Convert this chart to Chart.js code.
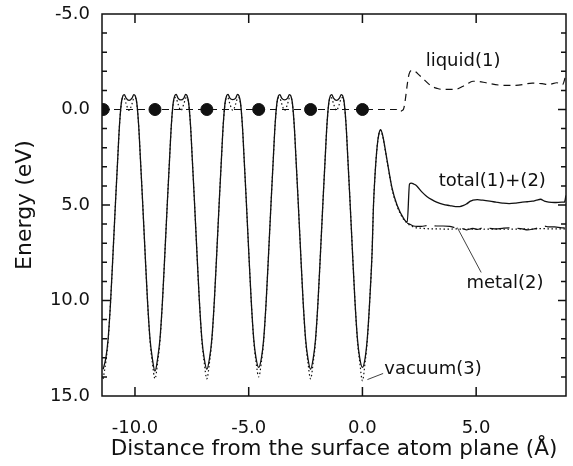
<!DOCTYPE html>
<html>
<head>
<meta charset="utf-8">
<script src="https://cdn.jsdelivr.net/npm/chart.js@4.4.1/dist/chart.umd.min.js"></script>
<style>
  body { margin: 0; background: #fff; }
</style>
</head>
<body>
<canvas id="potential_chart" width="573" height="466"></canvas>
<script>
'use strict';

// atom planes (Angstrom), all sitting at 0 eV
var atomX = [-11.40, -9.12, -6.84, -4.56, -2.28, 0.00];
var atomE = [0, 0, 0, 0, 0, 0];

// shared x grid for the total and vacuum potentials
var potX = [
    -11.40, -11.28, -11.18, -11.07, -10.96, -10.85, -10.76, -10.68, -10.60, -10.53, -10.47, -10.39,
    -10.26, -10.13, -10.05, -9.99, -9.92, -9.84, -9.76, -9.67, -9.56, -9.45, -9.34, -9.24,
    -9.12, -9.00, -8.90, -8.79, -8.68, -8.57, -8.48, -8.40, -8.32, -8.25, -8.19, -8.11,
    -7.98, -7.85, -7.77, -7.71, -7.64, -7.56, -7.48, -7.39, -7.28, -7.17, -7.06, -6.96,
    -6.84, -6.72, -6.62, -6.51, -6.40, -6.29, -6.20, -6.12, -6.04, -5.97, -5.91, -5.83,
    -5.70, -5.57, -5.49, -5.43, -5.36, -5.28, -5.20, -5.11, -5.00, -4.89, -4.78, -4.68,
    -4.56, -4.44, -4.34, -4.23, -4.12, -4.01, -3.92, -3.84, -3.76, -3.69, -3.63, -3.55,
    -3.42, -3.29, -3.21, -3.15, -3.08, -3.00, -2.92, -2.83, -2.72, -2.61, -2.50, -2.40,
    -2.28, -2.16, -2.06, -1.95, -1.84, -1.73, -1.64, -1.56, -1.48, -1.41, -1.35, -1.27,
    -1.14, -1.01, -0.93, -0.87, -0.80, -0.72, -0.64, -0.55, -0.44, -0.33, -0.22, -0.12,
    0.00, 0.12, 0.22, 0.33, 0.43, 0.48, 0.55, 0.65, 0.72, 0.80, 0.88, 0.94,
    1.09, 1.30, 1.52, 1.81, 1.97, 2.07, 2.15, 2.25, 2.39, 2.60, 2.83, 3.05,
    3.26, 3.55, 3.84, 4.10, 4.28, 4.45, 4.57, 4.75, 4.86, 5.05, 5.29, 5.60,
    5.87, 6.15, 6.45, 6.75, 7.03, 7.25, 7.47, 7.65, 7.83, 8.00, 8.19, 8.45,
    8.77, 8.88, 8.95
];

// total(1)+(2), eV
var totalE = [
    13.6, 13.0, 12.0, 10.0, 7.4, 4.7, 2.6, 0.8, -0.35, -0.72, -0.78, -0.60,
    -0.48, -0.60, -0.78, -0.72, -0.35, 0.8, 2.6, 4.7, 7.4, 10.0, 12.0, 13.0,
    13.7, 13.0, 12.0, 10.0, 7.4, 4.7, 2.6, 0.8, -0.35, -0.72, -0.79, -0.60,
    -0.50, -0.60, -0.79, -0.72, -0.35, 0.8, 2.6, 4.7, 7.4, 10.0, 12.0, 13.0,
    13.6, 13.0, 12.0, 10.0, 7.4, 4.7, 2.6, 0.8, -0.35, -0.72, -0.79, -0.60,
    -0.52, -0.60, -0.79, -0.72, -0.35, 0.8, 2.6, 4.7, 7.4, 10.0, 12.0, 13.0,
    13.5, 13.0, 12.0, 10.0, 7.4, 4.7, 2.6, 0.8, -0.35, -0.72, -0.78, -0.60,
    -0.50, -0.60, -0.78, -0.72, -0.35, 0.8, 2.6, 4.7, 7.4, 10.0, 12.0, 13.0,
    13.6, 13.0, 12.0, 10.0, 7.4, 4.7, 2.6, 0.8, -0.35, -0.72, -0.78, -0.60,
    -0.48, -0.60, -0.78, -0.72, -0.35, 0.8, 2.6, 4.7, 7.4, 10.0, 12.0, 13.0,
    13.5, 13.0, 11.9, 9.8, 7.3, 5.2, 3.5, 1.9, 1.3, 1.05, 1.3, 1.65,
    2.7, 4.1, 5.0, 5.7, 5.9, 3.9, 3.85, 3.9, 4.0, 4.3, 4.55, 4.72,
    4.85, 4.97, 5.03, 5.08, 5.08, 5.02, 4.95, 4.80, 4.74, 4.72, 4.75, 4.80,
    4.85, 4.90, 4.93, 4.90, 4.85, 4.83, 4.80, 4.75, 4.70, 4.80, 4.85, 4.87,
    4.85, 4.85, 4.5
];

// vacuum(3), eV
var vacuumE = [
    14.1, 13.2, 12.1, 10.0, 7.4, 4.7, 2.6, 0.8, -0.30, -0.62, -0.60, -0.30,
    0.05, -0.30, -0.60, -0.62, -0.30, 0.8, 2.6, 4.7, 7.4, 10.0, 12.1, 13.2,
    14.1, 13.2, 12.1, 10.0, 7.4, 4.7, 2.6, 0.8, -0.30, -0.62, -0.60, -0.30,
    0.05, -0.30, -0.60, -0.62, -0.30, 0.8, 2.6, 4.7, 7.4, 10.0, 12.1, 13.2,
    14.1, 13.2, 12.1, 10.0, 7.4, 4.7, 2.6, 0.8, -0.30, -0.62, -0.60, -0.30,
    0.05, -0.30, -0.60, -0.62, -0.30, 0.8, 2.6, 4.7, 7.4, 10.0, 12.1, 13.2,
    14.0, 13.2, 12.1, 10.0, 7.4, 4.7, 2.6, 0.8, -0.30, -0.62, -0.60, -0.30,
    0.05, -0.30, -0.60, -0.62, -0.30, 0.8, 2.6, 4.7, 7.4, 10.0, 12.1, 13.2,
    14.1, 13.2, 12.1, 10.0, 7.4, 4.7, 2.6, 0.8, -0.30, -0.62, -0.60, -0.30,
    0.05, -0.30, -0.60, -0.62, -0.30, 0.8, 2.6, 4.7, 7.4, 10.0, 12.1, 13.2,
    14.2, 13.2, 12.0, 9.8, 7.3, 5.2, 3.5, 1.9, 1.3, 1.1, 1.35, 1.7,
    2.75, 4.15, 5.05, 5.75, 5.95, 6.05, 6.10, 6.15, 6.20, 6.22, 6.24, 6.25,
    6.25, 6.26, 6.26, 6.25, 6.26, 6.27, 6.27, 6.26, 6.26, 6.27, 6.27, 6.26,
    6.26, 6.27, 6.27, 6.26, 6.25, 6.26, 6.26, 6.25, 6.24, 6.24, 6.25, 6.25,
    6.25, 6.25, 6.25
];

// metal(2) beyond the surface, eV
var metalX = [1.97, 2.07, 2.15, 2.25, 2.39, 2.60, 2.83, 3.05, 3.26, 3.55, 3.84, 4.10, 4.28, 4.45,
    4.57, 4.75, 4.86, 5.05, 5.29, 5.60, 5.87, 6.15, 6.45, 6.75, 7.03, 7.25, 7.47, 7.65,
    7.83, 8.00, 8.19, 8.45, 8.77, 8.95];
var metalE = [5.95, 6.00, 6.05, 6.10, 6.12, 6.12, 6.08, 6.08, 6.10, 6.10, 6.12, 6.20, 6.22, 6.25,
    6.30, 6.25, 6.22, 6.28, 6.20, 6.22, 6.25, 6.22, 6.20, 6.22, 6.25, 6.30, 6.27, 6.22,
    6.15, 6.10, 6.15, 6.15, 6.20, 6.20];

// liquid(1), eV
var liquidX = [-11.45, 1.50, 1.58, 1.66, 1.74, 1.80, 2.05, 2.20, 2.54, 3.04, 3.30, 3.55, 4.13,
    4.40, 4.57, 4.86, 5.10, 5.43, 6.01, 6.74, 7.47, 7.90, 8.19, 8.55, 8.80, 8.95];
var liquidE = [0, 0, 0.10, 0.12, 0.05, 0.0, -1.85, -2.05, -1.75, -1.22, -1.10, -1.05, -1.07,
    -1.20, -1.31, -1.48, -1.47, -1.40, -1.28, -1.26, -1.38, -1.35, -1.31, -1.40, -1.30, -1.85];

var xTicks = [-10, -5, 0, 5];

function points(xs, ys) {
    return xs.map(function (x, i) { return { x: x, y: ys[i] }; });
}

var FONT = '"DejaVu Sans", Verdana, sans-serif';
var INK = '#111';

// box frame with inward ticks on all four sides
var frameTicks = {
    id: 'frameTicks',
    afterDatasetsDraw: function (chart) {
        var ctx = chart.ctx, a = chart.chartArea;
        var xs = chart.scales.x, ys = chart.scales.y;
        ctx.save();
        ctx.strokeStyle = INK;
        ctx.lineWidth = 1.5;
        ctx.strokeRect(a.left, a.top, a.right - a.left, a.bottom - a.top);
        ctx.beginPath();
        xTicks.forEach(function (v) {
            var px = xs.getPixelForValue(v);
            ctx.moveTo(px, a.bottom); ctx.lineTo(px, a.bottom - 9);
            ctx.moveTo(px, a.top); ctx.lineTo(px, a.top + 9);
        });
        for (var e = -4; e <= 14; e++) {
            var py = ys.getPixelForValue(e);
            var len = e % 5 === 0 ? 8 : 5;
            ctx.moveTo(a.left, py); ctx.lineTo(a.left + len, py);
            ctx.moveTo(a.right, py); ctx.lineTo(a.right - len, py);
        }
        ctx.stroke();
        ctx.restore();
    }
};

// curve names and their pointer lines
var curveLabels = {
    id: 'curveLabels',
    afterDatasetsDraw: function (chart) {
        var ctx = chart.ctx;
        var xs = chart.scales.x, ys = chart.scales.y;
        function px(x) { return xs.getPixelForValue(x); }
        function py(y) { return ys.getPixelForValue(y); }
        ctx.save();
        ctx.fillStyle = INK;
        ctx.font = '18px ' + FONT;
        ctx.textAlign = 'left';
        ctx.textBaseline = 'middle';
        ctx.fillText('liquid(1)', px(2.78), py(-2.5));
        ctx.fillText('total(1)+(2)', px(3.35), py(3.77));
        ctx.fillText('metal(2)', px(4.57), py(9.1));
        ctx.fillText('vacuum(3)', px(0.96), py(13.6));
        ctx.strokeStyle = INK;
        ctx.lineWidth = 0.8;
        ctx.beginPath();
        ctx.moveTo(px(4.17), py(6.18)); ctx.lineTo(px(5.22), py(8.53));
        ctx.moveTo(px(0.22), py(14.14)); ctx.lineTo(px(0.91), py(13.82));
        ctx.stroke();
        ctx.restore();
    }
};

var lineStyle = {
    showLine: true,
    pointRadius: 0,
    borderColor: INK,
    fill: false,
    cubicInterpolationMode: 'monotone'
};

var chart = new Chart(document.getElementById('potential_chart'), {
    type: 'scatter',
    data: {
        datasets: [
            {
                label: 'atoms',
                data: points(atomX, atomE),
                pointRadius: 6,
                pointBackgroundColor: INK,
                pointBorderColor: INK,
                showLine: false
            },
            Object.assign({}, lineStyle, {
                label: 'total(1)+(2)',
                data: points(potX, totalE),
                borderWidth: 1.3
            }),
            Object.assign({}, lineStyle, {
                label: 'vacuum(3)',
                data: points(potX, vacuumE),
                borderWidth: 1.2,
                borderDash: [1.5, 2.5]
            }),
            Object.assign({}, lineStyle, {
                label: 'metal(2)',
                data: points(metalX, metalE),
                borderWidth: 1.2,
                borderDash: [20, 8]
            }),
            Object.assign({}, lineStyle, {
                label: 'liquid(1)',
                data: points(liquidX, liquidE),
                borderWidth: 1.2,
                borderDash: [7, 5]
            })
        ]
    },
    options: {
        responsive: false,
        animation: false,
        layout: { padding: { top: 14, right: 2, left: 0, bottom: 0 } },
        plugins: {
            legend: { display: false },
            tooltip: { enabled: false }
        },
        scales: {
            x: {
                type: 'linear',
                min: -11.45,
                max: 8.95,
                grid: { display: false },
                border: { display: false },
                afterBuildTicks: function (scale) {
                    scale.ticks = xTicks.map(function (v) { return { value: v }; });
                },
                afterFit: function (scale) {
                    scale.height = 70;
                    scale.paddingLeft = 0;
                    scale.paddingRight = 0;
                },
                ticks: {
                    color: INK,
                    padding: 14,
                    font: { family: FONT, size: 18 },
                    callback: function (v) { return v.toFixed(1); }
                },
                title: {
                    display: true,
                    text: 'Distance from the surface atom plane (Å)',
                    color: INK,
                    font: { family: FONT, size: 21.5 },
                    padding: { top: 0, bottom: 4 }
                }
            },
            y: {
                type: 'linear',
                min: -5,
                max: 15,
                reverse: true,
                grid: { display: false },
                border: { display: false },
                afterFit: function (scale) {
                    scale.width = 102;
                    scale.paddingTop = 0;
                    scale.paddingBottom = 0;
                },
                ticks: {
                    stepSize: 5,
                    color: INK,
                    padding: 4,
                    font: { family: FONT, size: 18 },
                    callback: function (v) { return v.toFixed(1); }
                },
                title: {
                    display: true,
                    text: 'Energy (eV)',
                    color: INK,
                    font: { family: FONT, size: 22 },
                    padding: { top: 12, bottom: 0 }
                }
            }
        }
    },
    plugins: [frameTicks, curveLabels]
});
</script>
</body>
</html>
